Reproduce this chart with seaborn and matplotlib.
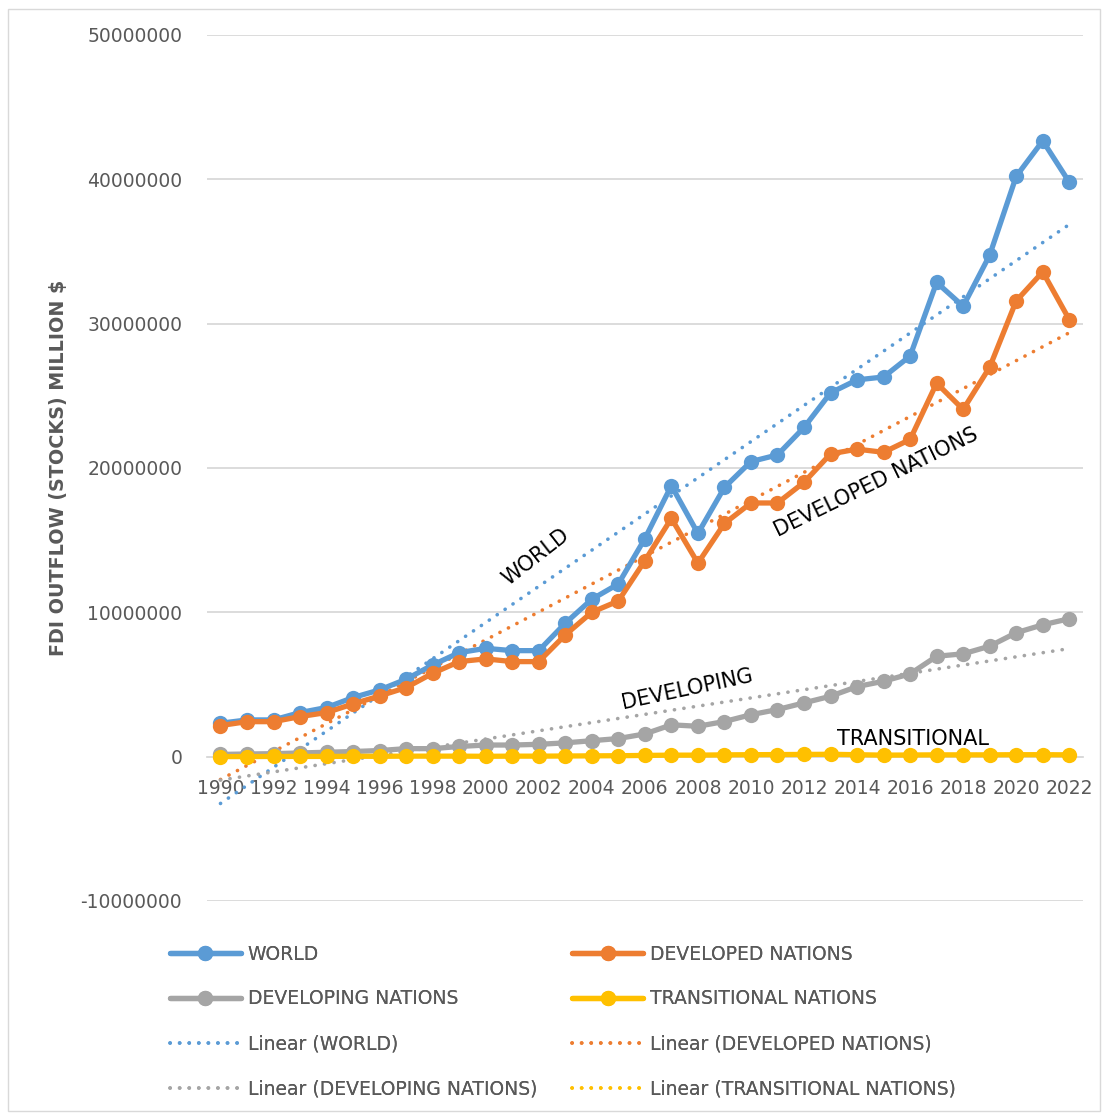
import numpy as np
import pandas as pd
import seaborn as sns
import matplotlib.pyplot as plt
from matplotlib.lines import Line2D
from matplotlib.patches import Rectangle

sns.set_style("white")
plt.rcParams['font.family'] = ['DejaVu Sans']

# data (units as on the y axis)
years = list(range(1990, 2023))
world = [2.31e6, 2.54e6, 2.54e6, 3.05e6, 3.40e6, 4.09e6, 4.62e6, 5.36e6, 6.35e6, 7.20e6,
         7.50e6, 7.34e6, 7.34e6, 9.24e6, 10.9e6, 11.96e6, 15.1e6, 18.77e6, 15.46e6, 18.65e6,
         20.44e6, 20.9e6, 22.8e6, 25.2e6, 26.1e6, 26.3e6, 27.75e6, 32.85e6, 31.2e6, 34.74e6,
         40.2e6, 42.66e6, 39.8e6]
developed = [2.15e6, 2.42e6, 2.42e6, 2.77e6, 3.05e6, 3.65e6, 4.20e6, 4.78e6, 5.77e6, 6.58e6,
             6.77e6, 6.58e6, 6.58e6, 8.43e6, 10.0e6, 10.78e6, 13.57e6, 16.5e6, 13.4e6, 16.15e6,
             17.57e6, 17.57e6, 19.0e6, 20.97e6, 21.3e6, 21.08e6, 21.97e6, 25.87e6, 24.05e6, 26.98e6,
             31.57e6, 33.58e6, 30.28e6]
developing = [0.15e6, 0.18e6, 0.20e6, 0.25e6, 0.30e6, 0.35e6, 0.42e6, 0.55e6, 0.55e6, 0.70e6,
              0.80e6, 0.80e6, 0.85e6, 0.95e6, 1.10e6, 1.25e6, 1.57e6, 2.20e6, 2.10e6, 2.43e6,
              2.90e6, 3.26e6, 3.72e6, 4.18e6, 4.85e6, 5.22e6, 5.73e6, 6.95e6, 7.12e6, 7.65e6,
              8.58e6, 9.13e6, 9.55e6]
transitional = [0.00e6, 0.00e6, 0.01e6, 0.01e6, 0.01e6, 0.02e6, 0.02e6, 0.03e6, 0.03e6, 0.03e6,
                0.02e6, 0.03e6, 0.03e6, 0.04e6, 0.05e6, 0.06e6, 0.08e6, 0.10e6, 0.10e6, 0.12e6,
                0.13e6, 0.14e6, 0.15e6, 0.16e6, 0.13e6, 0.10e6, 0.11e6, 0.12e6, 0.12e6, 0.12e6,
                0.13e6, 0.13e6, 0.12e6]

series = ["WORLD", "DEVELOPED NATIONS", "DEVELOPING NATIONS", "TRANSITIONAL NATIONS"]
colors = ["#5B9BD5", "#ED7D31", "#A5A5A5", "#FFC000"]
y_ticks = [-10000000, 0, 10000000, 20000000, 30000000, 40000000, 50000000]
x_ticks = list(range(1990, 2023, 2))

df = pd.DataFrame({"year": years * 4,
                   "value": world + developed + developing + transitional,
                   "series": [s for s in series for _ in years]})

DOTS = (0, (0.05, 2.6))

fig = plt.figure(figsize=(11.08, 11.15), dpi=100)
ax = fig.add_axes([0.187, 0.192, 0.79, 0.7767])

# dotted linear trend lines (drawn first, behind the data)
for s, c in zip(series, colors):
    sub = df[df["series"] == s]
    sns.regplot(data=sub, x="year", y="value", ax=ax, scatter=False, ci=None,
                line_kws=dict(color=c, lw=2.6, linestyle=DOTS,
                              dash_capstyle="round", zorder=2))

sns.lineplot(data=df, x="year", y="value", hue="series", hue_order=series,
             palette=colors, marker="o", markersize=11, markeredgewidth=0,
             linewidth=3.8, ax=ax, legend=False, zorder=3)

ax.set_xlim(1989.5, 2022.5)
ax.set_ylim(-10000000, 50000000)
ax.set_yticks(y_ticks)
ax.set_yticklabels([str(v) for v in y_ticks])
ax.set_xticks(x_ticks)
ax.set_xticklabels([str(v) for v in x_ticks])
ax.tick_params(axis="both", length=0, labelsize=13.5, labelcolor="#595959")
ax.tick_params(axis="y", pad=18)
ax.tick_params(axis="x", pad=16)
ax.grid(axis="y", color="#D9D9D9", linewidth=1.3)
ax.set_axisbelow(True)
for side in ["top", "right", "left"]:
    ax.spines[side].set_visible(False)
ax.spines["bottom"].set_position(("data", 0))
ax.spines["bottom"].set_color("#D9D9D9")
ax.spines["bottom"].set_linewidth(1.3)
ax.set_xlabel("")
ax.set_ylabel("FDI OUTFLOW (STOCKS) MILLION $", fontsize=13.8, fontweight="bold",
              color="#595959", labelpad=9)

# series labels placed on the chart
lab = dict(fontsize=15, ha="center", va="center", color="black")
ax.text(2001.9, 13.8e6, "WORLD", rotation=38, **lab)
ax.text(2014.7, 19.0e6, "DEVELOPED NATIONS", rotation=26, **lab)
ax.text(2007.6, 4.65e6, "DEVELOPING", rotation=12, **lab)
t = ax.text(2016.1, 1.22e6, "TRANSITIONAL", **lab)
clip = Rectangle((2008, 0.62e6), 14, 5e6, transform=ax.transData)
t.set_clip_path(clip)

# legend in two columns, rows read left to right
def h_line(c):
    return Line2D([], [], color=c, lw=3.8, marker="o", markersize=11, markeredgewidth=0)

def h_trend(c):
    return Line2D([], [], color=c, lw=2.6, linestyle=DOTS, dash_capstyle="round")

col1 = [(h_line(colors[0]), series[0]), (h_line(colors[2]), series[2]),
        (h_trend(colors[0]), "Linear (WORLD)"), (h_trend(colors[2]), "Linear (DEVELOPING NATIONS)")]
col2 = [(h_line(colors[1]), series[1]), (h_line(colors[3]), series[3]),
        (h_trend(colors[1]), "Linear (DEVELOPED NATIONS)"), (h_trend(colors[3]), "Linear (TRANSITIONAL NATIONS)")]

for col, x0 in [(col1, 0.138), (col2, 0.501)]:
    leg = fig.legend([h for h, _ in col], [l for _, l in col], loc="upper left",
                     bbox_to_anchor=(x0, 0.168), frameon=False, fontsize=13.5,
                     handlelength=3.8, handletextpad=0.35, labelspacing=1.38,
                     labelcolor="#595959")
    fig.add_artist(leg)

fig.add_artist(Rectangle((8 / 1108, 0.004), 1092 / 1108, 0.988, transform=fig.transFigure,
                         fill=False, edgecolor="#D9D9D9", linewidth=1))

fig.savefig("out.png", dpi=100)
